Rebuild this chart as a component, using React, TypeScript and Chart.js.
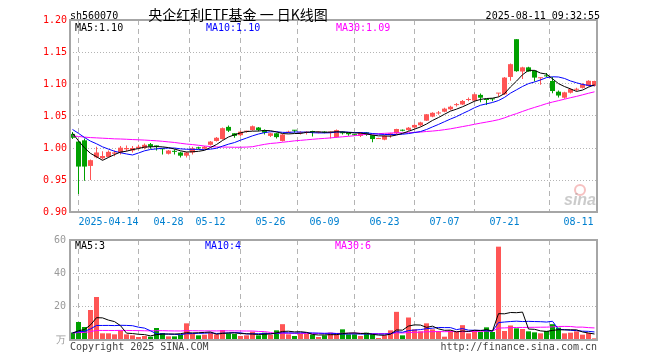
import React, { useEffect, useRef } from 'react';
import { Chart, registerables } from 'chart.js';

Chart.register(...registerables);

// ---------------- data ----------------
const dates: string[] = [
  '04-03', '04-07', '04-08', '04-09', '04-10', '04-11', '04-14', '04-15', '04-16', '04-17', '04-18',
  '04-21', '04-22', '04-23', '04-24', '04-25', '04-28', '04-29', '04-30',
  '05-06', '05-07', '05-08', '05-09', '05-12', '05-13', '05-14', '05-15', '05-16', '05-19', '05-20',
  '05-21', '05-22', '05-23', '05-26', '05-27', '05-28', '05-29', '05-30',
  '06-03', '06-04', '06-05', '06-06', '06-09', '06-10', '06-11', '06-12', '06-13', '06-16', '06-17',
  '06-18', '06-19', '06-20', '06-23', '06-24', '06-25', '06-26', '06-27', '06-30',
  '07-01', '07-02', '07-03', '07-04', '07-07', '07-08', '07-09', '07-10', '07-11', '07-14', '07-15',
  '07-16', '07-17', '07-18', '07-21', '07-22', '07-23', '07-24', '07-25', '07-28', '07-29', '07-30', '07-31',
  '08-01', '08-04', '08-05', '08-06', '08-07', '08-08', '08-11',
];

const tickDates = ['04-14', '04-28', '05-12', '05-26', '06-09', '06-23', '07-07', '07-21', '08-11'];
const tickTexts = ['2025-04-14', '04-28', '05-12', '05-26', '06-09', '06-23', '07-07', '07-21', '08-11'];

const open = [
  1.022, 1.010, 1.012, 0.972, 0.9855, 0.984, 0.986, 0.991, 0.993, 0.998,
  0.996, 1.000, 1.000, 1.006, 1.004, 0.999, 0.991, 0.995, 0.993, 0.988,
  0.993, 1.000, 0.999, 1.005, 1.011, 1.014, 1.033, 1.023, 1.020, 1.0255,
  1.028, 1.032, 1.028, 1.019, 1.023, 1.011, 1.024, 1.028, 1.023, 1.024,
  1.026, 1.024, 1.025, 1.024, 1.017, 1.0255, 1.024, 1.021, 1.019, 1.0245,
  1.020, 1.014, 1.013, 1.020, 1.023, 1.028, 1.028, 1.032, 1.0355, 1.0427,
  1.049, 1.054, 1.0567, 1.0605, 1.067, 1.068, 1.075, 1.074, 1.083, 1.0755,
  1.077, 1.085, 1.084, 1.111, 1.170, 1.1195, 1.126, 1.121, 1.109, 1.113,
  1.1047, 1.088, 1.0786, 1.0864, 1.091, 1.094, 1.097, 1.097,
];
const high = [
  1.025, 1.011, 1.015, 0.982, 1.002, 0.995, 0.996, 0.996, 1.003, 1.004,
  1.003, 1.005, 1.007, 1.008, 1.004, 0.999, 0.997, 0.998, 0.994, 0.994,
  1.002, 1.002, 1.003, 1.011, 1.017, 1.032, 1.035, 1.023, 1.027, 1.027,
  1.035, 1.033, 1.029, 1.024, 1.024, 1.022, 1.027, 1.028, 1.026, 1.026,
  1.027, 1.026, 1.026, 1.026, 1.029, 1.026, 1.024, 1.022, 1.025, 1.025,
  1.020, 1.016, 1.020, 1.024, 1.030, 1.029, 1.033, 1.037, 1.041, 1.053,
  1.056, 1.058, 1.063, 1.066, 1.0705, 1.075, 1.079, 1.085, 1.085, 1.076,
  1.077, 1.086, 1.111, 1.132, 1.170, 1.127, 1.127, 1.121, 1.110, 1.117,
  1.111, 1.090, 1.088, 1.093, 1.094, 1.101, 1.106, 1.105,
];
const low = [
  1.014, 0.928, 0.949, 0.950, 0.984, 0.982, 0.985, 0.987, 0.990, 0.995,
  0.993, 0.998, 0.998, 0.999, 0.996, 0.990, 0.990, 0.990, 0.985, 0.985,
  0.990, 0.998, 0.998, 1.004, 1.010, 1.013, 1.025, 1.016, 1.018, 1.024,
  1.027, 1.026, 1.021, 1.017, 1.015, 1.010, 1.023, 1.024, 1.021, 1.021,
  1.018, 1.023, 1.023, 1.015, 1.016, 1.021, 1.019, 1.019, 1.017, 1.019,
  1.009, 1.014, 1.012, 1.016, 1.022, 1.026, 1.027, 1.031, 1.034, 1.042,
  1.048, 1.052, 1.056, 1.059, 1.065, 1.067, 1.073, 1.073, 1.0715, 1.067,
  1.073, 1.080, 1.083, 1.105, 1.119, 1.108, 1.119, 1.104, 1.099, 1.111,
  1.0855, 1.079, 1.077, 1.085, 1.089, 1.093, 1.096, 1.096,
];
const close = [
  1.016, 0.971, 0.971, 0.981, 0.993, 0.9875, 0.994, 0.993, 1.0005, 1.000,
  1.000, 1.002, 1.005, 1.002, 1.002, 0.998, 0.996, 0.994, 0.988, 0.993,
  0.9995, 0.9995, 1.002, 1.010, 1.016, 1.031, 1.027, 1.019, 1.0255, 1.026,
  1.034, 1.028, 1.024, 1.023, 1.017, 1.021, 1.025, 1.027, 1.024, 1.025,
  1.025, 1.025, 1.024, 1.025, 1.028, 1.023, 1.0215, 1.020, 1.0245, 1.021,
  1.014, 1.0155, 1.019, 1.023, 1.0297, 1.027, 1.0317, 1.036, 1.040, 1.0527,
  1.055, 1.0545, 1.0615, 1.0645, 1.068, 1.0735, 1.0755, 1.084, 1.0786, 1.075,
  1.076, 1.0855, 1.110, 1.131, 1.120, 1.126, 1.1195, 1.110, 1.110, 1.112,
  1.089, 1.082, 1.087, 1.092, 1.092, 1.0995, 1.105, 1.1047,
];
// volume, 万手
const volume = [
  4.5, 10.8, 7.8, 18.0, 25.8, 4.0, 4.0, 3.4, 5.8, 3.4,
  2.8, 1.8, 2.4, 2.0, 7.2, 4.2, 2.2, 2.2, 3.2, 10.0,
  3.6, 2.8, 3.2, 4.4, 3.4, 6.0, 4.0, 3.6, 2.4, 2.8,
  5.0, 2.8, 4.4, 3.2, 5.8, 9.5, 3.4, 2.4, 3.8, 3.8,
  3.2, 1.8, 2.8, 4.4, 3.8, 6.4, 3.4, 3.4, 2.4, 4.4,
  3.4, 1.2, 2.8, 5.8, 16.9, 2.8, 13.5, 6.4, 5.2, 10.0,
  6.4, 5.4, 2.0, 5.8, 4.8, 8.9, 4.0, 5.8, 4.8, 7.6,
  4.8, 56.0, 5.4, 8.7, 7.0, 6.6, 5.2, 4.6, 4.0, 5.4,
  9.5, 7.4, 4.0, 4.4, 5.2, 3.2, 4.2, 1.0,
];
// sessions before the window (estimated from where the MA lines start)
const priorCloses = [
  1.002, 1.000, 1.004, 1.006, 1.003, 1.008, 1.010, 1.007, 1.012, 1.015,
  1.013, 1.017, 1.020, 1.018, 1.022, 1.024, 1.021, 1.026, 1.028, 1.025,
  1.032, 1.036, 1.038, 1.034, 1.035, 1.030, 1.026, 1.024, 1.019,
];
const priorVolumes = [
  3.8, 4.5, 3.6, 4.2, 5.1, 3.9, 4.4, 3.5, 4.8, 4.0,
  3.7, 4.6, 4.1, 3.4, 4.3, 5.0, 3.8, 4.2, 3.9, 4.7,
  4.4, 5.2, 3.6, 4.9, 4.1, 3.7, 4.5, 3.9, 4.2,
];

const maPeriods = [5, 10, 30];
const priceTicks = [0.9, 0.95, 1.0, 1.05, 1.1, 1.15, 1.2];
const volTicks = [0, 20, 40, 60];
const volUnit = '万';
const code = 'sh560070';
const title = '央企红利ETF基金 一 日K线图';
const stamp = '2025-08-11 09:32:55';
const priceMaLabels = ['MA5:1.10', 'MA10:1.10', 'MA30:1.09'];
const volMaLabels = ['MA5:3', 'MA10:4', 'MA30:6'];

// ---------------- styles ----------------
const UP = '#ff5555';
const DOWN = '#00a000';
const MA_COLORS = ['#000000', '#0000ff', '#ff00ff'];
const GRID = '#b4b4b4';
const BORDER = '#a6a6a6';
const MONO = '"DejaVu Sans Mono", "Liberation Mono", monospace';
const PX_PER_DAY = 6;
const PLOT_LEFT = 70;
const PLOT_RIGHT = 597;
const X_MIN = -2.5 / PX_PER_DAY;
const X_MAX = X_MIN + (PLOT_RIGHT - PLOT_LEFT) / PX_PER_DAY;

function movingAvg(prior: number[], vals: number[], n: number): number[] {
  const all = prior.concat(vals);
  const off = prior.length;
  return vals.map((_, i) => {
    let s = 0;
    for (let k = 0; k < n; k++) s += all[off + i - k];
    return s / n;
  });
}

const upFlags = close.map((c, i) => c >= open[i]);
const candleColors = upFlags.map((u) => (u ? UP : DOWN));
const tickIdx = tickDates.map((d) => dates.indexOf(d));

function xScale() {
  return {
    type: 'linear' as const,
    min: X_MIN,
    max: X_MAX,
    offset: false,
    afterBuildTicks: (s: any) => {
      s.ticks = tickIdx.map((v) => ({ value: v }));
    },
    afterFit: (s: any) => {
      s.height = 0;
    },
    ticks: { display: false },
    grid: { color: GRID, lineWidth: 1, drawTicks: false },
    border: { display: false, dash: [5, 4] },
  };
}

function lineDs(label: string, values: number[], color: string) {
  return {
    type: 'line' as const,
    label,
    data: values.map((v, i) => ({ x: i, y: v })),
    borderColor: color,
    borderWidth: 1,
    pointRadius: 0,
    tension: 0,
    fill: false,
    order: 0,
  };
}

function drawBorder(chart: any) {
  const { ctx, chartArea: a } = chart;
  ctx.save();
  ctx.strokeStyle = BORDER;
  ctx.lineWidth = 2;
  ctx.setLineDash([]);
  ctx.strokeRect(a.left, a.top, a.right - a.left, a.bottom - a.top);
  ctx.restore();
}

function text(ctx: CanvasRenderingContext2D, s: string, x: number, y: number, color: string, font: string, align: CanvasTextAlign = 'left') {
  ctx.fillStyle = color;
  ctx.font = font;
  ctx.textAlign = align;
  ctx.textBaseline = 'middle';
  ctx.fillText(s, x, y);
}

const mainDecor = {
  id: 'mainDecor',
  afterDraw(chart: any) {
    drawBorder(chart);
    const ctx: CanvasRenderingContext2D = chart.ctx;
    const xs = chart.scales.x;
    ctx.save();
    text(ctx, code, 70, 16, '#000', `10px ${MONO}`);
    text(ctx, title, 238, 15, '#000', '14px "Noto Sans CJK SC", sans-serif', 'center');
    text(ctx, stamp, 600, 16, '#000', `10px ${MONO}`, 'right');
    const maX = [75, 206, 336];
    priceMaLabels.forEach((s, i) => text(ctx, s, maX[i], 28, MA_COLORS[i], `10px ${MONO}`));
    tickIdx.forEach((idx, k) => {
      const px = xs.getPixelForValue(idx);
      const last = k === tickIdx.length - 1;
      text(ctx, tickTexts[k], last ? px - 1 : px, 222, '#0080d0', `10px ${MONO}`, last ? 'right' : 'center');
    });
    // sina watermark
    ctx.strokeStyle = 'rgba(240,150,150,0.6)';
    ctx.lineWidth = 2;
    ctx.beginPath();
    ctx.arc(580, 190, 5, 0, Math.PI * 2);
    ctx.stroke();
    text(ctx, 'sina', 596, 201, 'rgba(160,160,160,0.55)', 'italic bold 16px "Liberation Sans", sans-serif', 'right');
    ctx.restore();
  },
};

const volDecor = {
  id: 'volDecor',
  afterDraw(chart: any) {
    drawBorder(chart);
    const ctx: CanvasRenderingContext2D = chart.ctx;
    ctx.save();
    const maX = [75, 205, 335];
    volMaLabels.forEach((s, i) => text(ctx, s, maX[i], 246, MA_COLORS[i], `10px ${MONO}`));
    text(ctx, 'Copyright 2025 SINA.COM', 70, 347, '#444', `10px ${MONO}`);
    text(ctx, 'http://finance.sina.com.cn', 597, 347, '#444', `10px ${MONO}`, 'right');
    ctx.restore();
  },
};

function mainConfig(): any {
  const mas = maPeriods.map((n) => movingAvg(priorCloses, close, n));
  return {
    type: 'bar',
    data: {
      datasets: [
        ...mas.map((m, k) => lineDs('MA' + maPeriods[k], m, MA_COLORS[k])),
        {
          type: 'bar',
          label: 'body',
          data: open.map((o, i) => ({ x: i, y: [o, close[i]] })),
          backgroundColor: candleColors,
          barThickness: 5,
          minBarLength: 1,
          grouped: false,
          inflateAmount: 0,
          order: 1,
        },
        {
          type: 'bar',
          label: 'wick',
          data: low.map((l, i) => ({ x: i, y: [l, high[i]] })),
          backgroundColor: candleColors,
          barThickness: 1,
          grouped: false,
          inflateAmount: 0,
          order: 2,
        },
      ],
    },
    options: {
      responsive: false,
      maintainAspectRatio: false,
      animation: false,
      devicePixelRatio: 1,
      layout: { padding: { left: 0, top: 20, right: 660 - PLOT_RIGHT, bottom: 148 } },
      plugins: { legend: { display: false }, tooltip: { enabled: false } },
      scales: {
        x: xScale(),
        y: {
          type: 'linear',
          min: priceTicks[0],
          max: priceTicks[priceTicks.length - 1],
          afterBuildTicks: (s: any) => {
            s.ticks = priceTicks.map((v) => ({ value: v }));
          },
          afterFit: (s: any) => {
            s.width = PLOT_LEFT;
          },
          ticks: {
            color: '#ff0000',
            padding: 3,
            font: { family: MONO, size: 10 },
            callback: (v: any) => Number(v).toFixed(2),
          },
          grid: { color: GRID, lineWidth: 1, drawTicks: false },
          border: { display: false, dash: [1, 2] },
        },
      },
    },
    plugins: [mainDecor],
  };
}

function volConfig(): any {
  const mas = maPeriods.map((n) => movingAvg(priorVolumes, volume, n));
  return {
    type: 'bar',
    data: {
      datasets: [
        ...mas.map((m, k) => lineDs('VMA' + maPeriods[k], m, MA_COLORS[k])),
        {
          type: 'bar',
          label: 'volume',
          data: volume.map((v, i) => ({ x: i, y: v })),
          backgroundColor: candleColors,
          barThickness: 5,
          grouped: false,
          inflateAmount: 0,
          order: 1,
        },
      ],
    },
    options: {
      responsive: false,
      maintainAspectRatio: false,
      animation: false,
      devicePixelRatio: 1,
      layout: { padding: { left: 0, top: 240, right: 660 - PLOT_RIGHT, bottom: 20 } },
      plugins: { legend: { display: false }, tooltip: { enabled: false } },
      scales: {
        x: xScale(),
        y: {
          type: 'linear',
          min: volTicks[0],
          max: volTicks[volTicks.length - 1],
          afterBuildTicks: (s: any) => {
            s.ticks = volTicks.map((v) => ({ value: v }));
          },
          afterFit: (s: any) => {
            s.width = PLOT_LEFT;
          },
          ticks: {
            color: '#999999',
            padding: 4,
            font: { family: MONO, size: 10 },
            callback: (v: any) => (Number(v) === 0 ? volUnit : String(v)),
          },
          grid: { color: GRID, lineWidth: 1, drawTicks: false },
          border: { display: false, dash: [1, 2] },
        },
      },
    },
    plugins: [volDecor],
  };
}

export default function App() {
  const mainRef = useRef<HTMLCanvasElement>(null);
  const volRef = useRef<HTMLCanvasElement>(null);
  useEffect(() => {
    const charts = [new Chart(mainRef.current!, mainConfig()), new Chart(volRef.current!, volConfig())];
    return () => charts.forEach((c) => c.destroy());
  }, []);
  return (
    <div style={{ position: 'absolute', left: 0, top: 0, width: 660, height: 360, background: '#fff', overflow: 'hidden' }}>
      <canvas ref={mainRef} width={660} height={360} style={{ position: 'absolute', left: 0, top: 0 }} />
      <canvas ref={volRef} width={660} height={360} style={{ position: 'absolute', left: 0, top: 0 }} />
    </div>
  );
}
